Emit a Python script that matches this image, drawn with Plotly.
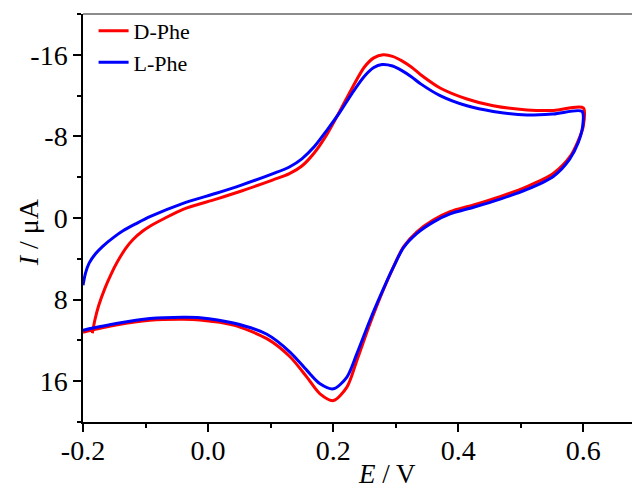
import plotly.graph_objects as go

# D-Phe (red) cyclic voltammogram, in sweep order
d_phe_E = [-0.185, -0.181, -0.175, -0.165, -0.155, -0.145, -0.132, -0.12, -0.105, -0.093,
           -0.07, -0.04, 0.013, 0.051,
           0.104, 0.13, 0.15, 0.17, 0.19, 0.21, 0.23, 0.25, 0.265, 0.28,
           0.295, 0.31, 0.325, 0.34, 0.371, 0.414, 0.456, 0.51, 0.5525, 0.60,
           0.60, 0.5925, 0.579, 0.5525, 0.51, 0.467, 0.4245, 0.387, 0.36, 0.334,
           0.3125, 0.2965, 0.28, 0.259, 0.238, 0.222, 0.2005, 0.179, 0.158, 0.131,
           0.094, 0.0405, -0.013, -0.04, -0.093, -0.147, -0.2]
d_phe_I = [11.3, 10.0, 8.6, 6.9, 5.5, 4.3, 3.0, 2.1, 1.3, 0.8,
           0.05, -0.85, -1.85, -2.6,
           -3.74, -4.35, -5.1, -6.4, -8.2, -10.4, -12.7, -14.8, -15.7, -16.0,
           -15.85, -15.4, -14.8, -14.05, -12.75, -11.67, -11.0, -10.6, -10.55, -10.8,
           -9.0, -7.67, -6.03, -4.39, -3.08, -2.1, -1.28, -0.62, 0.2, 1.35,
           2.82, 4.79, 7.08, 10.35, 13.96, 16.58, 17.9, 17.24, 15.6, 13.6,
           11.83, 10.5, 10.0, 9.93, 10.03, 10.5, 11.2]

# L-Phe (blue) cyclic voltammogram, in sweep order
l_phe_E = [-0.2, -0.196, -0.19, -0.18, -0.168, -0.15, -0.136, -0.115, -0.093,
           -0.04, 0.013, 0.051, 0.104, 0.13,
           0.15, 0.17, 0.19, 0.21, 0.23, 0.25, 0.265, 0.278, 0.295, 0.31,
           0.325, 0.34, 0.371, 0.414, 0.456, 0.51, 0.5525, 0.598,
           0.599, 0.592, 0.578, 0.5525, 0.51, 0.467, 0.4245, 0.387, 0.36, 0.334,
           0.3125, 0.2965, 0.28, 0.259, 0.238, 0.222, 0.2005, 0.179, 0.158, 0.131,
           0.094, 0.0405, -0.013, -0.04, -0.093, -0.147, -0.2]
l_phe_I = [6.6, 5.4, 4.4, 3.5, 2.75, 1.85, 1.25, 0.55, -0.13,
           -1.44, -2.43, -3.18, -4.35, -5.0,
           -5.8, -7.0, -8.6, -10.3, -12.2, -13.9, -14.75, -15.04, -14.9, -14.45,
           -13.85, -13.15, -12.0, -11.0, -10.45, -10.1, -10.2, -10.45,
           -9.0, -7.4, -5.75, -4.1, -2.8, -1.85, -1.05, -0.4, 0.4, 1.5,
           2.9, 4.8, 7.0, 10.0, 13.3, 15.6, 16.75, 16.25, 14.94, 13.14,
           11.4, 10.3, 9.77, 9.73, 9.86, 10.35, 11.0]

x_tick_vals = [-0.2, 0.0, 0.2, 0.4, 0.6]
x_tick_text = ["-0.2", "0.0", "0.2", "0.4", "0.6"]
y_tick_vals = [-16, -8, 0, 8, 16]
y_tick_text = ["-16", "-8", "0", "8", "16"]

FONT = "Liberation Serif, Times New Roman, serif"

fig = go.Figure()
fig.add_trace(go.Scatter(x=d_phe_E, y=d_phe_I, mode="lines", name="D-Phe",
                         line=dict(color="#ff0000", width=3, shape="spline", smoothing=0.8)))
fig.add_trace(go.Scatter(x=l_phe_E, y=l_phe_I, mode="lines", name="L-Phe",
                         line=dict(color="#0000ff", width=3, shape="spline", smoothing=0.8)))

fig.update_layout(
    width=632, height=482,
    margin=dict(l=75, r=0, t=6, b=68),
    paper_bgcolor="white", plot_bgcolor="white",
    font=dict(family=FONT, size=28, color="black"),
    showlegend=True,
    legend=dict(x=0.019, y=1.01, xanchor="left", yanchor="top",
                font=dict(family=FONT, size=22, color="black"),
                bgcolor="rgba(0,0,0,0)", borderwidth=0, tracegroupgap=0),
    xaxis=dict(range=[-0.2, 0.6907], showgrid=False, zeroline=False,
               showline=True, linecolor="black", linewidth=1.5, mirror=False,
               ticks="outside", ticklen=8, tickwidth=1.5, tickcolor="black",
               tickvals=x_tick_vals, ticktext=x_tick_text, ticklabelstandoff=-5,
               tickfont=dict(family=FONT, size=28),
               minor=dict(ticks="outside", ticklen=4, tickwidth=1.5, tickcolor="black", dtick=0.1,
                          tick0=-0.2, showgrid=False)),
    yaxis=dict(range=[20, -20], showgrid=False, zeroline=False,
               showline=True, linecolor="black", linewidth=1.5, mirror=False,
               ticks="outside", ticklen=8, tickwidth=1.5, tickcolor="black",
               tickvals=y_tick_vals, ticktext=y_tick_text,
               tickfont=dict(family=FONT, size=28),
               minor=dict(ticks="outside", ticklen=4, tickwidth=1.5, tickcolor="black", dtick=4,
                          tick0=0, showgrid=False)),
    shapes=[dict(type="line", xref="paper", yref="paper", x0=0, x1=1, y0=1, y1=1,
                 line=dict(color="#666666", width=1.5))],
    annotations=[
        dict(text="<i>E</i> / V", xref="paper", yref="paper", x=0.546, y=-0.128,
             xanchor="center", yanchor="middle", showarrow=False,
             font=dict(family=FONT, size=27)),
        dict(text="<i>I</i> / μA", xref="paper", yref="paper", x=-0.0987, y=0.465,
             xanchor="center", yanchor="middle", showarrow=False, textangle=-90,
             font=dict(family=FONT, size=28)),
    ],
)

fig.write_html("out.html")
